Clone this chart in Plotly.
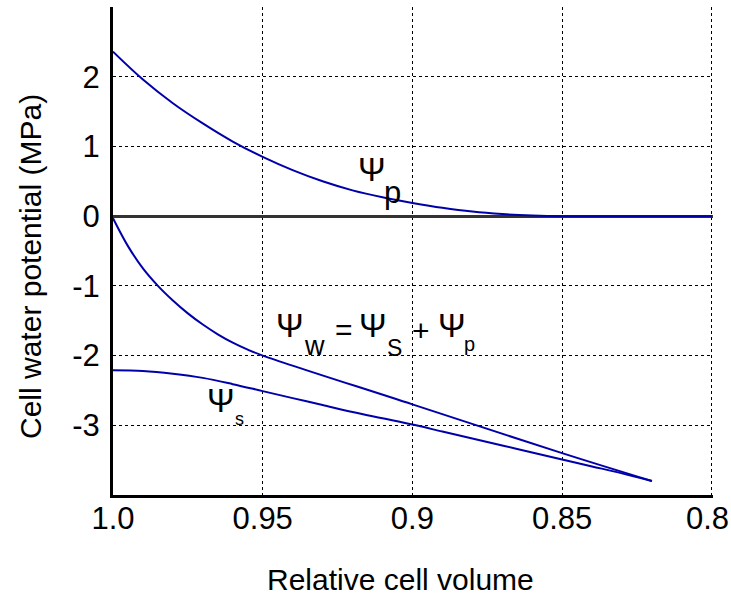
import plotly.graph_objects as go

# Relative cell volume sample points and potentials (MPa)
vol_p = [1.0, 0.99, 0.98, 0.97, 0.96, 0.95, 0.94, 0.93, 0.92, 0.91, 0.90,
         0.89, 0.88, 0.87, 0.86, 0.85, 0.84, 0.80]
psi_p = [2.36, 1.96, 1.62, 1.33, 1.07, 0.85, 0.66, 0.50, 0.37, 0.27, 0.19,
         0.12, 0.065, 0.03, 0.01, 0.0, 0.0, 0.0]

vol_w = [1.0, 0.995, 0.99, 0.985, 0.98, 0.975, 0.97, 0.965, 0.96, 0.955,
         0.95, 0.90, 0.85, 0.82]
psi_w = [-0.03, -0.43, -0.75, -1.0, -1.21, -1.395, -1.555, -1.695, -1.815, -1.915,
         -2.0, -2.70, -3.40, -3.80]

vol_s = [1.0, 0.99, 0.98, 0.97, 0.96, 0.95, 0.94, 0.93, 0.92, 0.91, 0.90,
         0.89, 0.88, 0.87, 0.86, 0.85, 0.84, 0.83, 0.82]
psi_s = [-2.21, -2.22, -2.26, -2.32, -2.41, -2.51, -2.61, -2.71, -2.81, -2.90,
         -2.99, -3.09, -3.19, -3.29, -3.39, -3.49, -3.59, -3.69, -3.80]

x_ticks = [1.0, 0.95, 0.9, 0.85, 0.8]
x_tick_text = ["1.0", "0.95", "0.9", "0.85", "0.8"]
y_ticks = [-3, -2, -1, 0, 1, 2]
y_tick_text = ["-3", "-2", "-1", "0", "1", "2"]

BLUE = "#0000aa"
FONT = "Liberation Sans, Arial, Helvetica, sans-serif"
W, H = 731, 596
ML, MR, MT, MB = 113, 18, 7, 101

fig = go.Figure()
for xs, ys in [(vol_p, psi_p), (vol_w, psi_w), (vol_s, psi_s)]:
    fig.add_trace(go.Scatter(x=xs, y=ys, mode="lines",
                             line=dict(color=BLUE, width=2, shape="spline", smoothing=1.0),
                             showlegend=False, hoverinfo="skip"))

def px2x(px):
    return 1.0 - (px - 113) / 3000.0

def py2y(py):
    return (216 - py) / 69.7

labels = [
    ("Ψ", 372.5, 169.5, 33), ("p", 393, 192.5, 31),
    ("Ψ", 290, 325, 33), ("w", 315, 346, 27), ("=", 344, 329, 30),
    ("Ψ", 374, 325, 33), ("S", 395, 348, 23), ("+", 422, 330, 30),
    ("Ψ", 452.5, 325, 33), ("p", 470.5, 344, 20),
    ("Ψ", 221, 400, 33), ("s", 239.5, 419, 18),
]
for txt, px, py, sz in labels:
    fig.add_annotation(x=px2x(px), y=py2y(py), xref="x", yref="y", text=txt,
                       showarrow=False, xanchor="center", yanchor="middle",
                       font=dict(family=FONT, size=sz, color="black"))

pw, ph = W - ML - MR, H - MT - MB
# the last x tick label sits at the window edge: draw it nudged slightly inward
fig.add_annotation(x=x_ticks[-1], y=(H - MB - 518) / ph, xref="x", yref="paper",
                   text=x_tick_text[-1], showarrow=False, xshift=-4,
                   xanchor="center", yanchor="middle",
                   font=dict(family=FONT, size=31, color="black"))

# axis titles placed as paper annotations
fig.add_annotation(x=(400 - ML) / pw, y=(H - MB - 579) / ph, xref="paper", yref="paper",
                   text="Relative cell volume", showarrow=False,
                   xanchor="center", yanchor="middle",
                   font=dict(family=FONT, size=30, color="black"))
fig.add_annotation(x=(30 - ML) / pw, y=(H - MB - 267) / ph, xref="paper", yref="paper",
                   text="Cell water potential (MPa)", showarrow=False, textangle=-90,
                   xanchor="center", yanchor="middle",
                   font=dict(family=FONT, size=30, color="black"))

fig.update_layout(
    width=W, height=H,
    margin=dict(l=ML, r=MR, t=MT, b=MB, autoexpand=False),
    paper_bgcolor="white", plot_bgcolor="white",
    font=dict(family=FONT, size=31, color="black"),
    xaxis=dict(range=[1.0, 0.7996], tickvals=x_ticks,
               ticktext=x_tick_text[:-1] + [""],
               showgrid=True, gridcolor="black", griddash="dot", gridwidth=1,
               showline=True, linecolor="black", linewidth=3,
               zeroline=False, ticks="", ticklabeloverflow="allow",
               ticklabelstandoff=-6, automargin=False),
    yaxis=dict(range=[-4, 3], tickvals=y_ticks, ticktext=y_tick_text,
               showgrid=True, gridcolor="black", griddash="dot", gridwidth=1,
               showline=True, linecolor="black", linewidth=3,
               zeroline=True, zerolinecolor="#333333", zerolinewidth=2.5,
               ticks="outside", ticklen=4, tickcolor="rgba(0,0,0,0)",
               automargin=False),
)

fig.write_html("out.html")
